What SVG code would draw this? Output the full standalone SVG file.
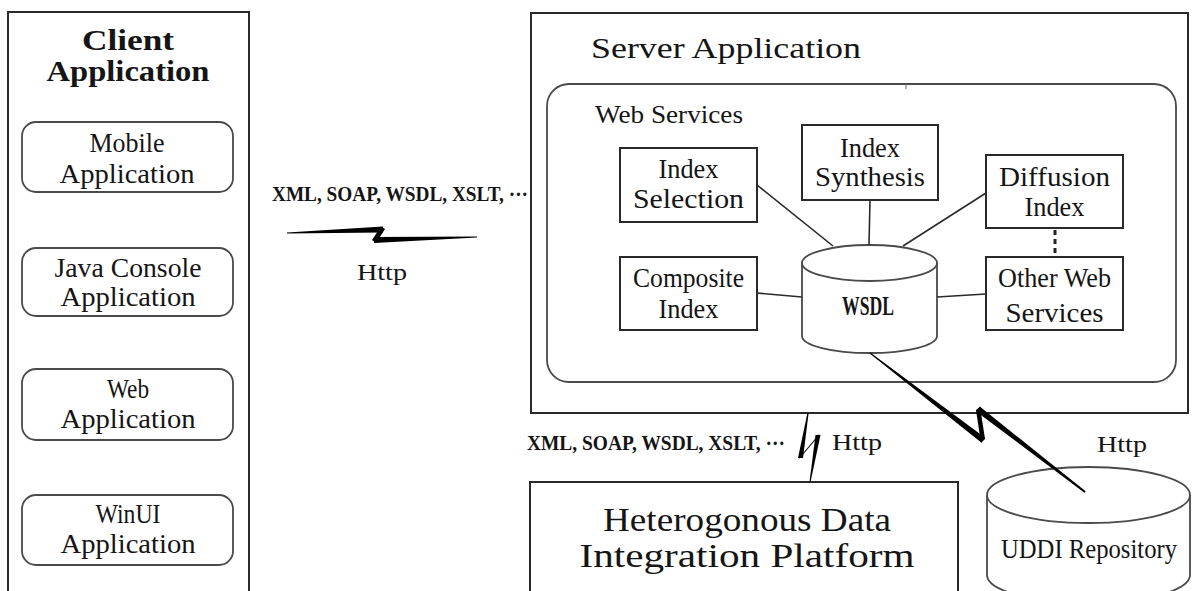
<svg xmlns="http://www.w3.org/2000/svg" width="1192" height="591" viewBox="0 0 1192 591">
  <style>
    .box { fill: #fff; stroke: #2a2a2a; stroke-width: 2; }
    .rbox { fill: #fff; stroke: #4a4a4a; stroke-width: 1.8; }
    .ln { fill: none; stroke: #2a2a2a; stroke-width: 1.6; }
    .bolt { fill: #000; stroke: none; }
    text { font-family: "Liberation Serif", "Times New Roman", serif; fill: #151515; }
    .title { font-size: 30px; }
    .big { font-size: 33px; text-anchor: middle; }
    .lbl { font-size: 28px; text-anchor: middle; }
    .proto { font-size: 21px; font-weight: bold; }
    .http { font-size: 23px; }
  </style>

  <rect width="1192" height="591" fill="#fff"/>

  <!-- client side -->
  <g id="client">
    <rect class="box" x="8" y="12" width="241" height="600"/>
    <text class="title" x="128" y="50" text-anchor="middle" font-weight="bold" textLength="92" lengthAdjust="spacingAndGlyphs">Client</text>
    <text class="title" x="128" y="81" text-anchor="middle" font-weight="bold" textLength="163" lengthAdjust="spacingAndGlyphs">Application</text>
  </g>
  <g id="mobile">
    <rect class="rbox" x="22" y="122" width="211" height="70" rx="14"/>
    <text class="lbl" x="127" y="152" textLength="75" lengthAdjust="spacingAndGlyphs">Mobile</text>
    <text class="lbl" x="127" y="183" textLength="135" lengthAdjust="spacingAndGlyphs">Application</text>
  </g>
  <g id="java-console">
    <rect class="rbox" x="22" y="248" width="211" height="68" rx="14"/>
    <text class="lbl" x="128" y="277" textLength="147" lengthAdjust="spacingAndGlyphs">Java Console</text>
    <text class="lbl" x="128" y="306" textLength="135" lengthAdjust="spacingAndGlyphs">Application</text>
  </g>
  <g id="web-app">
    <rect class="rbox" x="22" y="369" width="211" height="71" rx="14"/>
    <text class="lbl" x="128" y="398" textLength="42" lengthAdjust="spacingAndGlyphs">Web</text>
    <text class="lbl" x="128" y="428" textLength="135" lengthAdjust="spacingAndGlyphs">Application</text>
  </g>
  <g id="winui">
    <rect class="rbox" x="22" y="495" width="211" height="70" rx="14"/>
    <text class="lbl" x="128" y="523" textLength="65" lengthAdjust="spacingAndGlyphs">WinUI</text>
    <text class="lbl" x="128" y="553" textLength="135" lengthAdjust="spacingAndGlyphs">Application</text>
  </g>

  <!-- server side -->
  <g id="server">
    <rect class="box" x="531" y="13" width="657" height="400"/>
    <text class="title" x="591" y="58" textLength="270" lengthAdjust="spacingAndGlyphs">Server Application</text>
  </g>
  <g id="web-services">
    <rect class="rbox" x="547" y="84" width="629" height="298" rx="22"/>
    <line x1="906" y1="84" x2="906" y2="89" stroke="#666" stroke-width="1"/>
    <text x="595" y="123" font-size="25" textLength="148" lengthAdjust="spacingAndGlyphs">Web Services</text>
  </g>
  <g id="index-selection">
    <rect class="box" x="620" y="148" width="137" height="74"/>
    <text class="lbl" x="688.5" y="178" textLength="60" lengthAdjust="spacingAndGlyphs">Index</text>
    <text class="lbl" x="688.5" y="208" textLength="111" lengthAdjust="spacingAndGlyphs">Selection</text>
  </g>
  <g id="index-synthesis">
    <rect class="box" x="802" y="125" width="136" height="75"/>
    <text class="lbl" x="870" y="157" textLength="60" lengthAdjust="spacingAndGlyphs">Index</text>
    <text class="lbl" x="870" y="186" textLength="110" lengthAdjust="spacingAndGlyphs">Synthesis</text>
  </g>
  <g id="diffusion-index">
    <rect class="box" x="986" y="155" width="137" height="73"/>
    <text class="lbl" x="1054.5" y="186" textLength="111" lengthAdjust="spacingAndGlyphs">Diffusion</text>
    <text class="lbl" x="1054.5" y="216" textLength="60" lengthAdjust="spacingAndGlyphs">Index</text>
  </g>
  <g id="composite-index">
    <rect class="box" x="620" y="257" width="137" height="73"/>
    <text class="lbl" x="688.5" y="287" textLength="111" lengthAdjust="spacingAndGlyphs">Composite</text>
    <text class="lbl" x="688.5" y="318" textLength="60" lengthAdjust="spacingAndGlyphs">Index</text>
  </g>
  <g id="other-services">
    <rect class="box" x="986" y="257" width="137" height="73"/>
    <text class="lbl" x="1054.5" y="287" textLength="113" lengthAdjust="spacingAndGlyphs">Other Web</text>
    <text class="lbl" x="1054.5" y="322" textLength="98" lengthAdjust="spacingAndGlyphs">Services</text>
  </g>
  <g id="wsdl">
    <path class="rbox" d="M802,263 L802,336 A67.5,17 0 0 0 937,336 L937,263"/>
    <ellipse class="rbox" cx="869.5" cy="263" rx="67.5" ry="18"/>
    <text class="lbl" x="868" y="315" font-weight="bold" textLength="52" lengthAdjust="spacingAndGlyphs">WSDL</text>
  </g>

  <!-- platform and registry -->
  <g id="data-platform">
    <rect class="box" x="530" y="482" width="428" height="130"/>
    <text class="big" x="747" y="531" textLength="288" lengthAdjust="spacingAndGlyphs">Heterogonous Data</text>
    <text class="big" x="747" y="567" textLength="335" lengthAdjust="spacingAndGlyphs">Integration Platform</text>
  </g>
  <g id="uddi">
    <path class="rbox" d="M987,495 L987,575 A101.5,28 0 0 0 1190,575 L1190,495"/>
    <ellipse class="rbox" cx="1088.5" cy="495" rx="101.5" ry="28"/>
    <text class="lbl" x="1089" y="558" font-size="26" textLength="176" lengthAdjust="spacingAndGlyphs">UDDI Repository</text>
  </g>

  <!-- connectors -->
  <g id="connectors">
    <line class="ln" x1="757" y1="185" x2="833" y2="246"/>
    <line class="ln" x1="870" y1="200" x2="869" y2="245"/>
    <line class="ln" x1="986" y1="193" x2="903" y2="246"/>
    <line class="ln" x1="757" y1="293" x2="802" y2="297"/>
    <line class="ln" x1="937" y1="297" x2="986" y2="294"/>
    <line x1="1055" y1="230" x2="1055" y2="257" stroke="#222" stroke-width="3" stroke-dasharray="5 4"/>

    <!-- client to server link -->
    <polygon class="bolt" points="287,232.5 383,226.5 383,232.5 287,233.5"/>
    <polygon class="bolt" points="381,226.5 385,229 376,243 372,240"/>
    <polygon class="bolt" points="374,237 477,236.6 477,237.4 374,243"/>
    <text class="proto" x="272" y="201" textLength="256" lengthAdjust="spacingAndGlyphs">XML, SOAP, WSDL, XSLT, ···</text>
    <text class="http" x="382" y="280" text-anchor="middle" textLength="50" lengthAdjust="spacingAndGlyphs">Http</text>

    <!-- server to platform link -->
    <polygon class="bolt" points="807.4,413 808.6,413 803,458 798,458"/>
    <polygon class="bolt" points="798.5,460 801.5,455 820,433 817,438"/>
    <polygon class="bolt" points="815.5,435 820.5,435 810.5,482 809.5,482"/>
    <text class="proto" x="527" y="450" textLength="258" lengthAdjust="spacingAndGlyphs">XML, SOAP, WSDL, XSLT, ···</text>
    <text class="http" x="857" y="450" text-anchor="middle" textLength="50" lengthAdjust="spacingAndGlyphs">Http</text>

    <!-- WSDL to UDDI link -->
    <polygon class="bolt" points="869.7,353.4 870.3,352.6 984.8,437.6 981.2,442.4"/>
    <polygon class="bolt" points="981,443 985,439 980,407 976,410"/>
    <polygon class="bolt" points="979.8,406.6 976.2,411.4 1084.4,492.8 1085.6,491.2"/>
    <text class="http" x="1122" y="452" text-anchor="middle" textLength="50" lengthAdjust="spacingAndGlyphs">Http</text>
  </g>
</svg>
